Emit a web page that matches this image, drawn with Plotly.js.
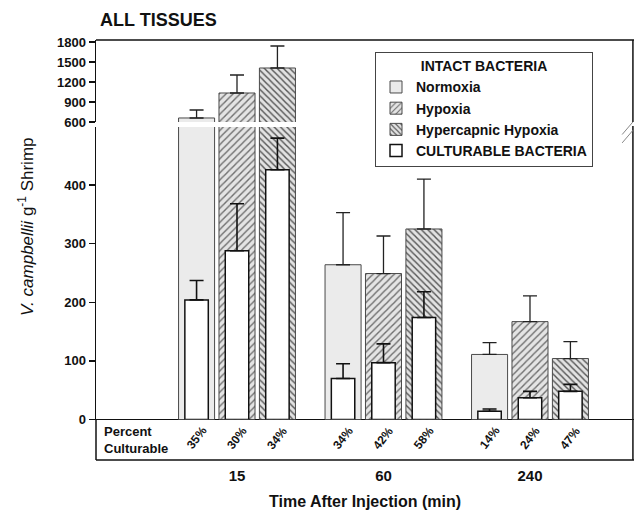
<!DOCTYPE html>
<html>
<head>
<meta charset="utf-8">
<script src="https://cdn.plot.ly/plotly-3.0.1.min.js"></script>
<style>html,body{margin:0;padding:0;background:#fff;}#chart{width:636px;height:510px;}</style>
</head>
<body>
<div id="chart"></div>
<script>
// ---- data ----
const groups = ['15', '60', '240'];
const seriesNames = ['Normoxia', 'Hypoxia', 'Hypercapnic Hypoxia'];
const normoxiaIntact = [660, 264, 111];
const normoxiaIntactErr = [120, 89, 20];
const hypoxiaIntact = [1035, 249, 167];
const hypoxiaIntactErr = [270, 64, 44];
const hyperIntact = [1410, 325, 104];
const hyperIntactErr = [330, 85, 29];
const normoxiaCult = [204, 70, 14];
const normoxiaCultErr = [33, 25, 4];
const hypoxiaCult = [288, 97, 37];
const hypoxiaCultErr = [80, 32, 11];
const hyperCult = [426, 174, 48];
const hyperCultErr = [54, 44, 12];
const normoxiaPct = ['35%', '34%', '14%'];
const hypoxiaPct = ['30%', '42%', '24%'];
const hyperPct = ['34%', '58%', '47%'];

// ---- styling ----
const FONT = 'Arial, "Liberation Sans", Helvetica, sans-serif';
const step = 0.276, wIntact = 0.246, wCult = 0.16;
const centers = [-step, 0, step];
const intactStyles = [
  {color: '#ebebeb', pattern: {shape: ''}},
  {color: '#e4e4e4', pattern: {shape: '/', fgcolor: '#6e6e6e', bgcolor: '#e4e4e4', size: 5, solidity: 0.28}},
  {color: '#e2e2e2', pattern: {shape: '\\', fgcolor: '#555', bgcolor: '#e2e2e2', size: 4.5, solidity: 0.32}}
];
const intactVals = [normoxiaIntact, hypoxiaIntact, hyperIntact];
const intactErrs = [normoxiaIntactErr, hypoxiaIntactErr, hyperIntactErr];
const cultVals = [normoxiaCult, hypoxiaCult, hyperCult];
const cultErrs = [normoxiaCultErr, hypoxiaCultErr, hyperCultErr];
const pcts = [normoxiaPct, hypoxiaPct, hyperPct];

const traces = [];
['y', 'y2'].forEach(function (ya) {
  intactVals.forEach(function (vals, i) {
    traces.push({
      type: 'bar', x: groups, y: vals, yaxis: ya, xaxis: 'x',
      name: seriesNames[i], showlegend: ya === 'y', legendrank: i + 1,
      width: wIntact, offset: centers[i] - wIntact / 2,
      marker: {color: intactStyles[i].color, pattern: intactStyles[i].pattern,
               line: {color: '#4a4a4a', width: 1}},
      error_y: {type: 'data', symmetric: false, array: intactErrs[i],
                arrayminus: vals.map(function () { return 0; }),
                color: '#222', thickness: 1.3, width: 7},
      hoverinfo: 'skip'
    });
  });
});
cultVals.forEach(function (vals, i) {
  traces.push({
    type: 'bar', x: groups, y: vals, yaxis: 'y', xaxis: 'x',
    name: 'CULTURABLE BACTERIA', showlegend: i === 0, legendrank: 4,
    width: wCult, offset: centers[i] - wCult / 2,
    marker: {color: '#ffffff', line: {color: '#111', width: 1.5}},
    error_y: {type: 'data', symmetric: false, array: cultErrs[i],
              arrayminus: vals.map(function () { return 0; }),
              color: '#111', thickness: 1.6, width: 7},
    hoverinfo: 'skip'
  });
});

const annotations = [];
pcts.forEach(function (arr, i) {
  arr.forEach(function (t, g) {
    annotations.push({xref: 'x', yref: 'paper', x: g + centers[i], y: 0.052,
      text: t, showarrow: false, textangle: -52, xanchor: 'center', yanchor: 'middle',
      font: {family: FONT, size: 12, color: '#111', weight: 'bold'}});
  });
});
annotations.push({xref: 'paper', yref: 'paper', x: 0.012, y: 0.048, xanchor: 'left', yanchor: 'middle',
  text: 'Percent<br>Culturable', align: 'left', showarrow: false,
  font: {family: FONT, size: 13, color: '#111', weight: 'bold'}});
annotations.push({xref: 'paper', yref: 'paper', x: -0.13, y: 0.555, xanchor: 'center', yanchor: 'middle',
  text: '<i>V. campbellii</i> g<sup>-1</sup> Shrimp', textangle: -90, showarrow: false,
  font: {family: FONT, size: 17, color: '#111'}});

const lineC = '#111';
const shapes = [
  {type: 'line', xref: 'paper', yref: 'paper', x0: 0, x1: 1, y0: 1, y1: 1, line: {color: lineC, width: 1.5}},
  {type: 'line', xref: 'paper', yref: 'paper', x0: 0, x1: 1, y0: 0, y1: 0, line: {color: lineC, width: 1.5}},
  {type: 'line', xref: 'paper', yref: 'paper', x0: 0, x1: 0, y0: 0, y1: 0.0964, line: {color: lineC, width: 1.5}},
  {type: 'line', xref: 'paper', yref: 'paper', x0: 0.998, x1: 0.998, y0: 0, y1: 0.795, line: {color: lineC, width: 1.5}},
  {type: 'line', xref: 'paper', yref: 'paper', x0: 0.998, x1: 0.998, y0: 0.805, y1: 1, line: {color: lineC, width: 1.5}},
  {type: 'line', xref: 'paper', yref: 'paper', x0: 0.978, x1: 0.998, y0: 0.775, y1: 0.805, line: {color: '#888', width: 1}},
  {type: 'line', xref: 'paper', yref: 'paper', x0: 0.978, x1: 0.998, y0: 0.755, y1: 0.785, line: {color: '#888', width: 1}}
];

const tickFont = {family: FONT, size: 13, color: '#111', weight: 'bold'};
const layout = {
  width: 636, height: 510,
  margin: {l: 96, r: 2, t: 40, b: 50},
  paper_bgcolor: '#fff', plot_bgcolor: 'rgba(0,0,0,0)',
  barmode: 'overlay', showlegend: true,
  title: {text: '<b>ALL TISSUES</b>', x: 100 / 636, xanchor: 'left', xref: 'container',
          y: 1 - 20 / 510, yanchor: 'middle', yref: 'container',
          font: {family: FONT, size: 18, color: '#111'}},
  xaxis: {type: 'category', range: [-0.9625, 2.71], anchor: 'free', position: 0,
          showline: false, ticks: '', showgrid: false, zeroline: false,
          tickfont: {family: FONT, size: 15, color: '#111', weight: 'bold'}, ticklabelstandoff: 5,
          title: {text: '<b>Time After Injection (min)</b>', standoff: 15,
                  font: {family: FONT, size: 16, color: '#111'}}},
  yaxis: {domain: [0.0964, 0.7929], range: [0, 499], tickvals: [0, 100, 200, 300, 400],
          showline: true, linecolor: lineC, linewidth: 1.5, ticks: 'outside', ticklen: 6,
          tickcolor: lineC, tickwidth: 1.3, showgrid: false, zeroline: true, zerolinecolor: lineC,
          zerolinewidth: 1.5, tickfont: tickFont, fixedrange: true},
  yaxis2: {domain: [0.8048, 1], range: [600, 1830], tickvals: [600, 900, 1200, 1500, 1800],
           anchor: 'x', showline: true, linecolor: lineC, linewidth: 1.5, ticks: 'outside', ticklen: 6,
           tickcolor: lineC, tickwidth: 1.3, showgrid: false, zeroline: false,
           tickfont: tickFont, fixedrange: true},
  legend: {x: 0.5186, y: 0.971, xanchor: 'left', yanchor: 'top', bgcolor: '#fff',
           bordercolor: '#444', borderwidth: 1, traceorder: 'normal', tracegroupgap: 0,
           font: {family: FONT, size: 14, color: '#111', weight: 'bold'},
           title: {text: 'INTACT BACTERIA', side: 'top center',
                   font: {family: FONT, size: 14, color: '#111', weight: 'bold'}}},
  annotations: annotations,
  shapes: shapes
};

Plotly.newPlot('chart', traces, layout, {displayModeBar: false, staticPlot: true});
</script>
</body>
</html>
